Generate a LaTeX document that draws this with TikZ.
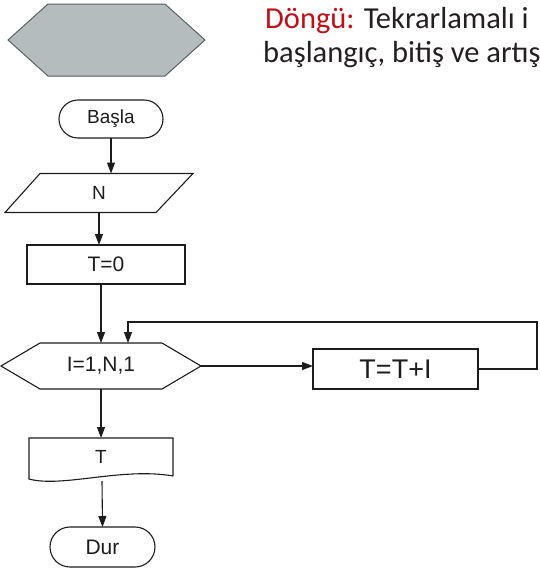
\documentclass[tikz,border=0pt]{standalone}
\usepackage{fontspec}
\setmainfont{Liberation Sans}
\newfontfamily\notefont{Carlito}
\usetikzlibrary{shapes.misc,arrows.meta}
\definecolor{hexfill}{RGB}{181,188,189}
\definecolor{hexline}{RGB}{90,95,96}
\definecolor{notered}{RGB}{196,14,22}
\definecolor{notetext}{RGB}{35,31,32}
\definecolor{ink}{RGB}{28,28,28}
\begin{document}
\begin{tikzpicture}[x=1pt,y=-1pt,
  flow/.style={line width=1.1pt, text=ink, inner sep=0pt, outer sep=0pt,
    font=\fontsize{19}{19}\selectfont},
  slot/.style={flow, rectangle},
  term/.style={flow, draw=ink, rounded rectangle},
  proc/.style={flow, draw=ink, rectangle},
  outline/.style={draw=ink, line width=1.1pt},
  note/.style={anchor=base west, inner sep=0pt, text=notetext,
    font=\notefont\fontsize{30.5}{30.5}\selectfont},
  arr/.style={draw=ink, line width=1.1pt, -{Triangle[length=11pt,width=8pt]}}]
\useasboundingbox (0,0) rectangle (539,570);
\clip (0,0) rectangle (539,570);

% loop symbol legend
\node[slot, minimum width=197pt, minimum height=72pt] (sym) at (106.5,40) {};
\draw[fill=hexfill, draw=hexline, line width=1pt]
  (sym.west) -- ([xshift=40pt]sym.north west) -- ([xshift=-40pt]sym.north east)
  -- (sym.east) -- ([xshift=-40pt]sym.south east) -- ([xshift=40pt]sym.south west) -- cycle;

\node[note] (note1) at (265,28) {\textcolor{notered}{Döngü:} Tekrarlamalı i};
\node[note] (note2) at (263,62) {başlangıç, bitiş ve artış};

% flowchart
\node[term, minimum width=104pt, minimum height=38pt] (start) at (111,119) {Başla};

\node[slot, minimum width=188pt, minimum height=39pt] (in) at (99,193) {N};
\draw[outline] ([xshift=35pt]in.north west) -- (in.north east)
  -- ([xshift=-37pt]in.south east) -- (in.south west) -- cycle;

\node[proc, minimum width=158pt, minimum height=39pt,
  font=\fontsize{21}{21}\selectfont] (init) at (106,264.5) {T=0};

\node[slot, minimum width=200pt, minimum height=46pt,
  font=\fontsize{21}{21}\selectfont] (loop) at (101,366) {I=1,N,1};
\draw[outline] (loop.west) -- ([xshift=39pt]loop.north west) -- ([xshift=-39pt]loop.north east)
  -- (loop.east) -- ([xshift=-39pt]loop.south east) -- ([xshift=39pt]loop.south west) -- cycle;

\node[proc, minimum width=165pt, minimum height=40pt,
  font=\fontsize{27}{27}\selectfont] (sum) at (395.5,369) {T=T+I};

\node[slot, minimum width=144pt, minimum height=38pt] (doc) at (101,457) {T};
\draw[outline] (doc.south east) -- (doc.north east) -- (doc.north west)
  -- (29,479) .. controls (62,488) and (122,467) .. (doc.south east);

\node[term, minimum width=105pt, minimum height=40pt,
  font=\fontsize{21}{21}\selectfont] (end) at (102.5,547) {Dur};

% connectors
\draw[arr] (start.south) -- (start.south |- in.north);
\draw[arr] (in.south) -- (in.south |- init.north);
\draw[arr] (loop.north |- init.south) -- (loop.north);
\draw[arr] (loop.east) -- (loop.east -| sum.west);

\coordinate (rturn) at (537,322);
\coordinate (back) at (128,322);
\draw[arr] (sum.east) -- (sum.east -| rturn) -- (rturn) -- (back) -- (back |- loop.north);

\draw[arr] (loop.south) -- (loop.south |- doc.north);
\coordinate (docfoot) at (102,481);
\draw[arr] (docfoot) -- (end.north);
\end{tikzpicture}
\end{document}
